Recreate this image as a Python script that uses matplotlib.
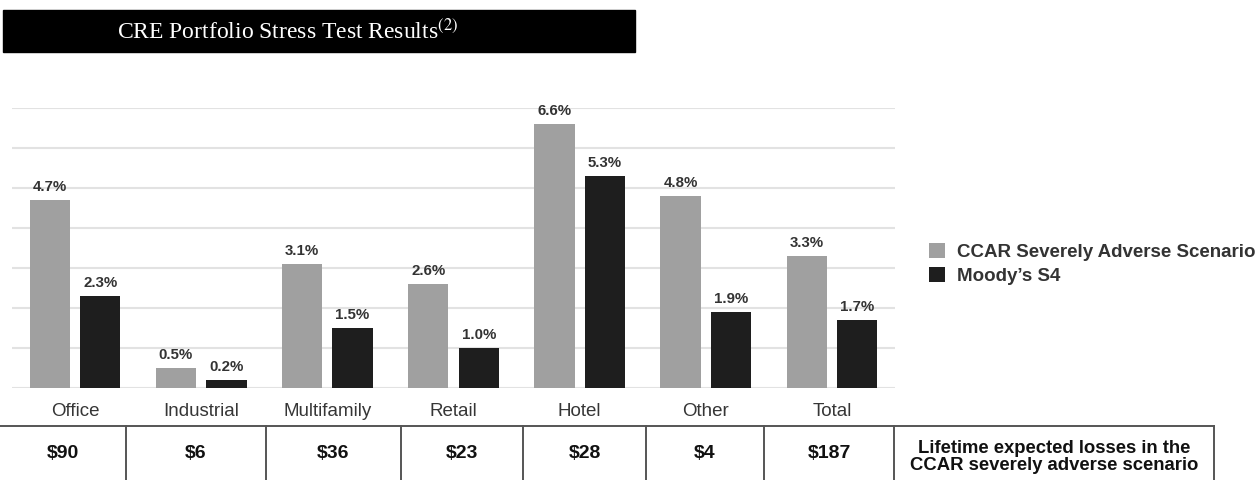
import matplotlib
matplotlib.use("Agg")
import matplotlib.pyplot as plt
from matplotlib.patches import Rectangle
from matplotlib.lines import Line2D
import numpy as np

categories = ["Office", "Industrial", "Multifamily", "Retail", "Hotel", "Other", "Total"]
ccar = [4.7, 0.5, 3.1, 2.6, 6.6, 4.8, 3.3]
moodys = [2.3, 0.2, 1.5, 1.0, 5.3, 1.9, 1.7]
losses = ["$90", "$6", "$36", "$23", "$28", "$4", "$187"]
loss_note = "Lifetime expected losses in the\nCCAR severely adverse scenario"
series_names = ["CCAR Severely Adverse Scenario", "Moody\u2019s S4"]

GRAY = "#a0a0a0"
DARK = "#1e1e1e"
TXT = "#333333"

plt.rcParams["font.family"] = ["Liberation Sans", "DejaVu Sans"]
plt.rcParams["mathtext.fontset"] = "stix"

W, H = 1259, 480
fig = plt.figure(figsize=(W / 100, H / 100), dpi=100)

# titulo en caja negra
fig.patches.append(Rectangle((3 / W, 1 - 52 / H), 632 / W, 42 / H,
                             transform=fig.transFigure, color="black", zorder=0))
fig.text(288 / W, 1 - 31 / H, r"CRE Portfolio Stress Test Results$^{(2)}$",
         color="white", ha="center", va="center", fontsize=17,
         family=["Liberation Serif", "DejaVu Serif"])

ax = fig.add_axes([12 / W, 1 - 388 / H, 883 / W, 280 / H])
x = np.arange(len(categories))
w = 0.32
b1 = ax.bar(x - 0.2, ccar, w, color=GRAY, label=series_names[0], zorder=3)
b2 = ax.bar(x + 0.2, moodys, w, color=DARK, label=series_names[1], zorder=3)

for bars, vals in [(b1, ccar), (b2, moodys)]:
    for rect, v in zip(bars, vals):
        ax.text(rect.get_x() + rect.get_width() / 2, v + 0.15, f"{v:.1f}%",
                ha="center", va="bottom", fontsize=10.8, fontweight="bold", color=TXT)

ax.set_xlim(-0.5, 6.5)
ax.set_ylim(0, 7)
ax.set_yticks(np.arange(0, 8, 1))
ax.grid(axis="y", color="#e2e2e2", linewidth=1.5, zorder=0)
ax.tick_params(left=False, bottom=False, labelleft=False, labelbottom=False)
for s in ax.spines.values():
    s.set_visible(False)

# etiquetas de categoria
for xi, cat in zip(x, categories):
    ax.text(xi, -0.58, cat, transform=ax.transData, ha="center", va="center",
            fontsize=13.5, color="#363636", clip_on=False)

ax.legend(loc="center left", bbox_to_anchor=(929 / W, 1 - 264 / H),
          bbox_transform=fig.transFigure, frameon=False,
          prop={"weight": "bold", "size": 13.5}, handlelength=0.85, handleheight=0.85,
          handletextpad=0.65, labelspacing=0.28, borderpad=0, borderaxespad=0,
          labelcolor=TXT)

# tabla inferior
top = 1 - 426 / H
edges = [126, 266, 401, 523, 646, 764, 894]
fig.lines.append(Line2D([0, 1214 / W], [top, top], transform=fig.transFigure,
                        color="#555555", linewidth=1.4))
for e in edges + [1214]:
    fig.lines.append(Line2D([e / W, e / W], [0, top], transform=fig.transFigure,
                            color="#555555", linewidth=1.4))
bounds = [0] + edges
for i, txt in enumerate(losses):
    cx = (bounds[i] + bounds[i + 1]) / 2
    fig.text(cx / W, 1 - 454 / H, txt, ha="center", va="center",
             fontsize=14, fontweight="bold", color="#111111")
fig.text((894 + 1214) / 2 / W, 1 - 457 / H, loss_note, ha="center", va="center",
         fontsize=13.3, fontweight="bold", color="#111111", linespacing=0.95)

fig.savefig("out.png", dpi=100, facecolor="white")
plt.close(fig)
